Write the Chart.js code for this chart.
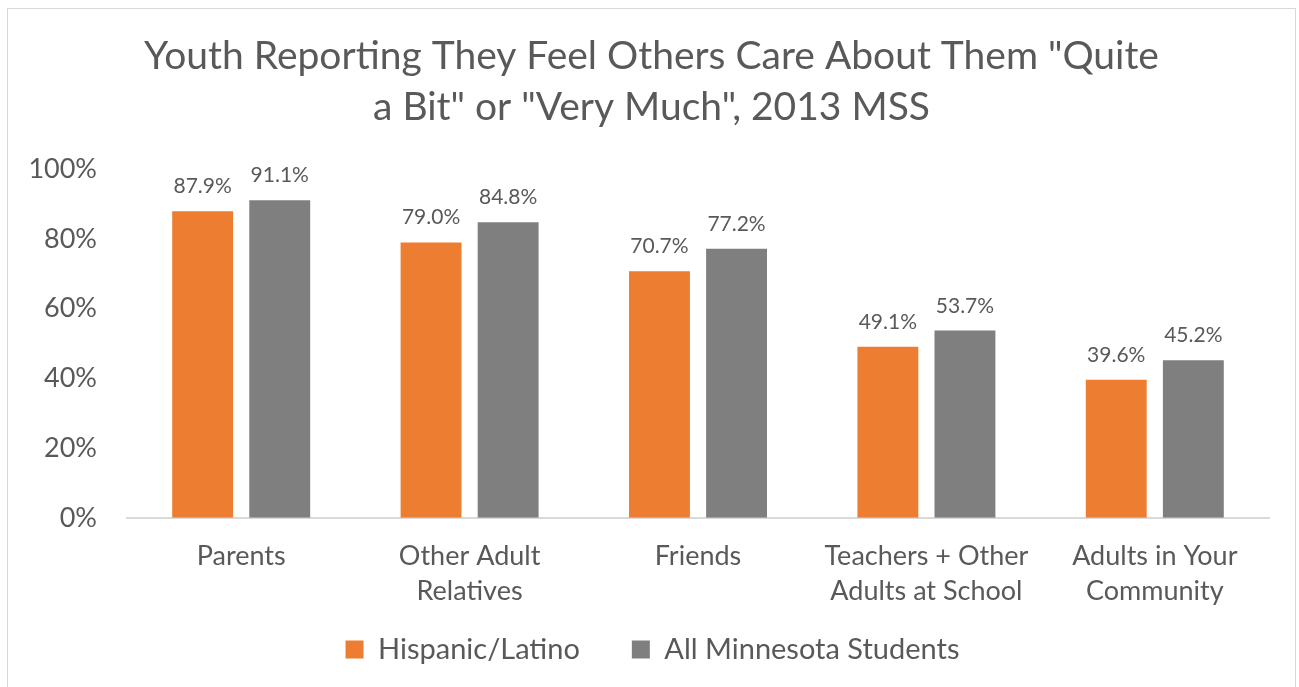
<!DOCTYPE html>
<html>
<head>
<meta charset="utf-8">
<script src="https://cdn.jsdelivr.net/npm/chart.js@4"></script>
<style>
  html, body { margin: 0; padding: 0; background: #fff; overflow: hidden; }
  #frame {
    position: absolute; left: 7px; top: 8px;
    width: 1287px; height: 700px;
    border: 1px solid #d9d9d9;
  }
</style>
</head>
<body>
<div id="frame"><canvas id="grafico"></canvas></div>
<script>
const categorias = [
  "Parents",
  ["Other Adult", "Relatives"],
  "Friends",
  ["Teachers + Other", "Adults at School"],
  ["Adults in Your", "Community"],
];
const hispanico = [87.9, 79.0, 70.7, 49.1, 39.6];
const todosMN = [91.1, 84.8, 77.2, 53.7, 45.2];
const yTicks = [0, 20, 40, 60, 80, 100];

const theme = {
  orange: "#ED7D31",
  gray: "#7F7F7F",
  text: "#595959",
  axis: "#D9D9D9",
};

Chart.defaults.font.family = "Lato, 'Open Sans', sans-serif";
Chart.defaults.color = theme.text;

// labels above each bar
const rotulos = {
  id: "rotulos",
  afterDatasetsDraw(chart) {
    const ctx = chart.ctx;
    ctx.save();
    ctx.font = "21px Lato, sans-serif";
    ctx.fillStyle = theme.text;
    ctx.textAlign = "center";
    ctx.textBaseline = "alphabetic";
    chart.data.datasets.forEach((ds, i) => {
      chart.getDatasetMeta(i).data.forEach((bar, j) => {
        ctx.fillText(ds.data[j].toFixed(1) + "%", bar.x, bar.y - 18);
      });
    });
    ctx.restore();
  },
};

// x axis is squeezed so the legend sits closer; let its labels draw past the box.
// title and legend are nudged right to sit centred on the whole frame
const ajustes = {
  id: "ajustes",
  afterLayout(chart) {
    chart.scales.x.bottom += 50;
    chart.titleBlock.left += 13;
    chart.titleBlock.right += 13;
    chart.legend.left += 14;
    chart.legend.right += 14;
  },
};

new Chart(document.getElementById("grafico"), {
  type: "bar",
  data: {
    labels: categorias,
    datasets: [
      {
        label: "Hispanic/Latino",
        data: hispanico,
        backgroundColor: theme.orange,
        categoryPercentage: 0.675,
        barPercentage: 0.79,
      },
      {
        label: "All Minnesota Students",
        data: todosMN,
        backgroundColor: theme.gray,
        categoryPercentage: 0.675,
        barPercentage: 0.79,
      },
    ],
  },
  options: {
    responsive: true,
    maintainAspectRatio: false,
    animation: false,
    layout: { padding: { left: 0, right: 26, top: 0, bottom: 35 } },
    plugins: {
      title: {
        display: true,
        text: ['Youth Reporting They Feel Others Care About Them "Quite', 'a Bit" or "Very Much", 2013 MSS'],
        color: theme.text,
        font: { size: 39, weight: "normal", lineHeight: 1.31 },
        padding: { top: 22, bottom: 36 },
      },
      legend: {
        position: "bottom",
        labels: {
          color: theme.text,
          font: { size: 29 },
          boxWidth: 18,
          boxHeight: 18,
          padding: 52,
        },
      },
      tooltip: { enabled: false },
    },
    scales: {
      x: {
        afterFit: (scale) => {
          scale.height = scale.height - 47;
        },
        grid: { display: false, drawTicks: false },
        border: { color: theme.axis, width: 2 },
        ticks: {
          color: theme.text,
          font: { size: 27, lineHeight: 1.3 },
          padding: 21,
          maxRotation: 0,
          autoSkip: false,
        },
      },
      y: {
        min: 0,
        max: 100,
        afterBuildTicks: (scale) => {
          scale.ticks = yTicks.map((v) => ({ value: v }));
        },
        afterFit: (scale) => {
          scale.width = 119;
        },
        grid: { display: false, drawTicks: false },
        border: { display: false },
        ticks: {
          color: theme.text,
          font: { size: 27 },
          padding: 30,
          callback: (v) => v + "%",
        },
      },
    },
  },
  plugins: [rotulos, ajustes],
});
</script>
</body>
</html>
